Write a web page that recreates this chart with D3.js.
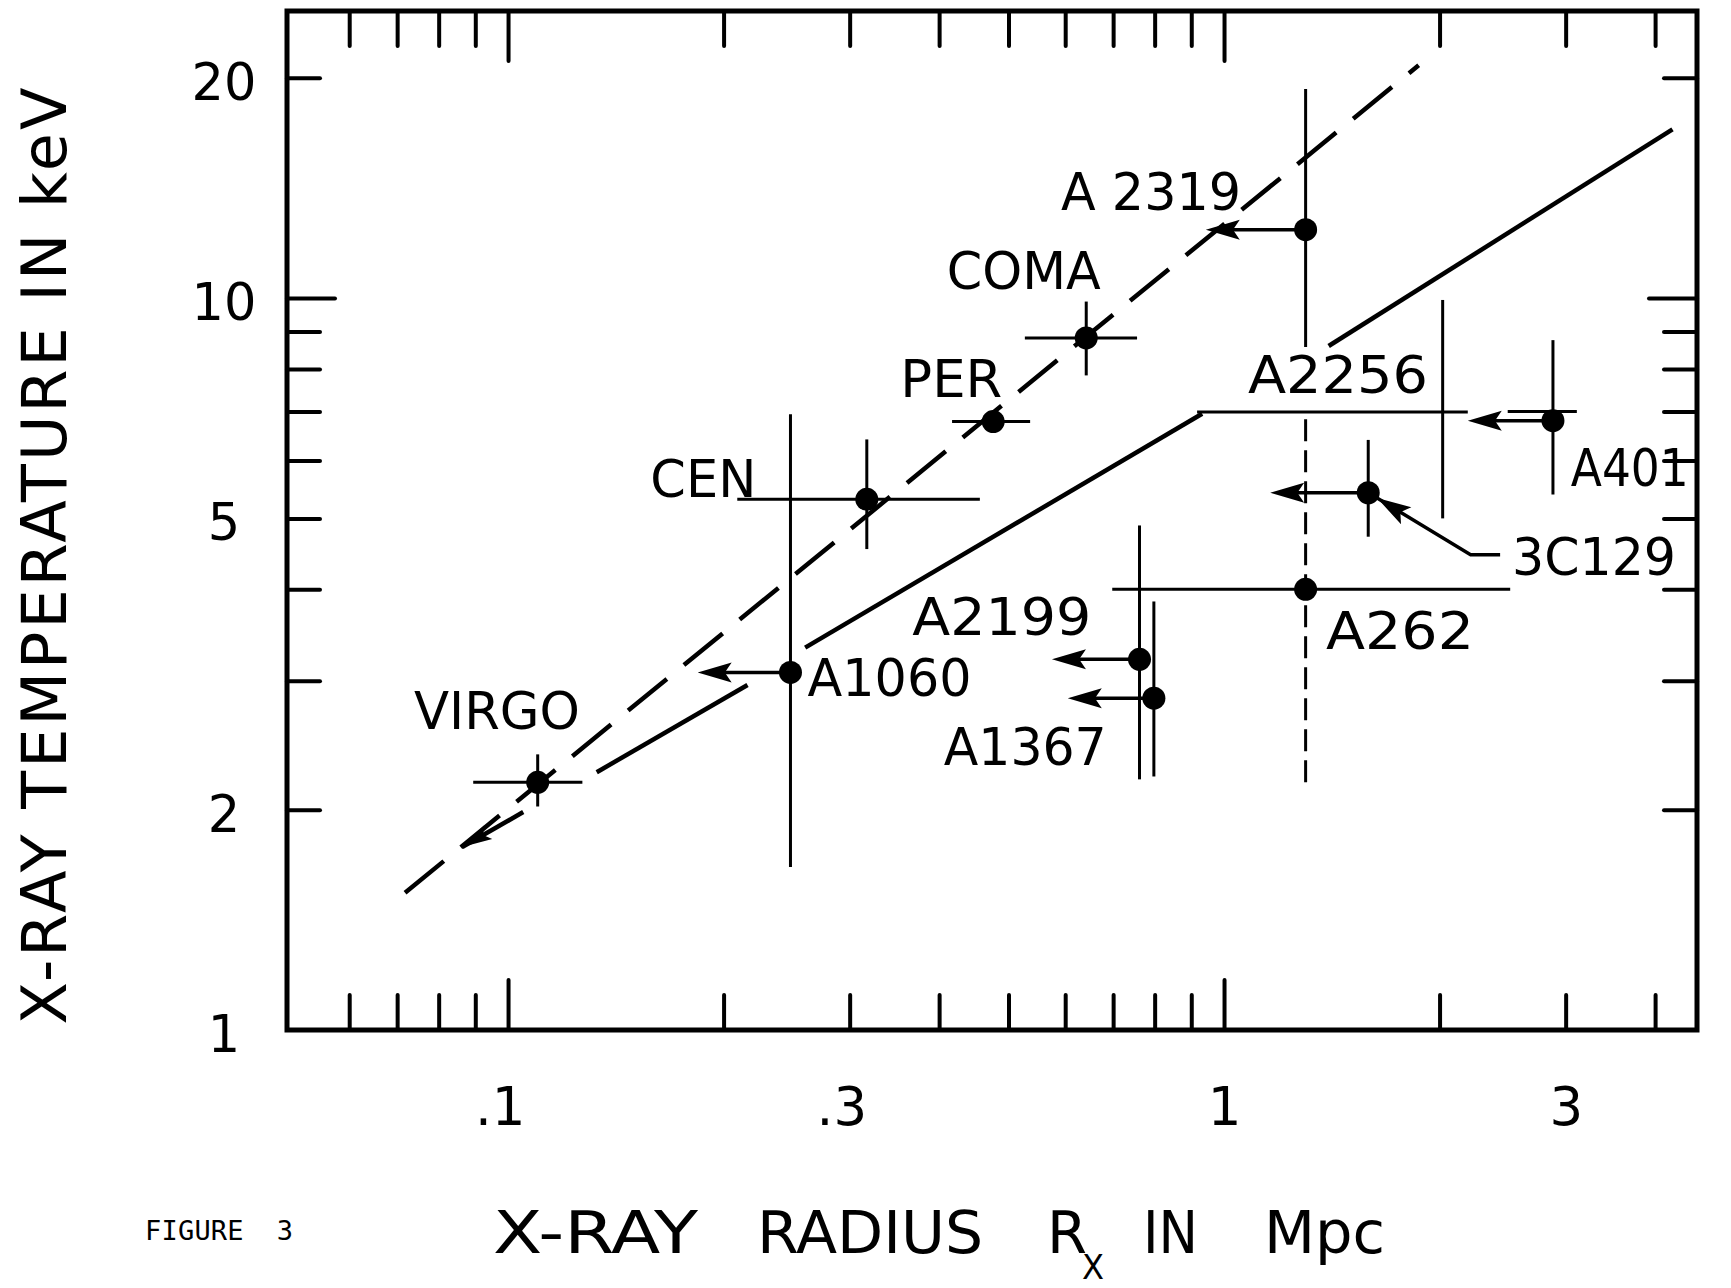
<!DOCTYPE html>
<html>
<head>
<meta charset="utf-8">
<script src="https://cdn.jsdelivr.net/npm/d3@7"></script>
<style>
  body { margin: 0; background: #fff; }
  svg { display: block; background: #fff; }
</style>
</head>
<body>
<svg width="1731" height="1288"></svg>
<script>
// clusters: radius in Mpc, temperature in keV
const names   = ['VIRGO', 'A1060', 'CEN', 'PER', 'COMA', 'A2319', 'A2256', 'A401', '3C129', 'A262', 'A2199', 'A1367']
const radius  = [0.110, 0.248, 0.317, 0.476, 0.642, 1.30, 2.02, 2.88, 1.59, 1.30, 0.762, 0.798]
const temp    = [2.18, 3.08, 5.31, 6.78, 8.82, 12.4, 6.99, 6.80, 5.42, 4.00, 3.21, 2.84]
const radLo   = [0.0894, null, 0.209, 0.417, 0.527, null, 0.917, 2.49, null, 0.698, null, null]
const radHi   = [0.127, null, 0.456, 0.536, 0.756, null, 2.19, 3.11, null, 2.51, null, null]
// the A401 radius bar is drawn a little above its point
const radBarT = [null, null, null, null, null, null, null, 7.0, null, null, null, null]
const tempLo  = [2.02, 1.67, 4.54, null, 7.84, 8.57, 5.00, 5.39, 4.72, 2.18, 2.20, 2.22]
const tempHi  = [2.38, 6.94, 6.41, null, 9.89, 19.3, 9.94, 8.76, 6.40, 6.99, 4.89, 3.85]
// upper limits on radius: arrow runs left to this radius
const limitTo = [null, 0.184, null, null, null, 0.943, null, 2.19, 1.16, null, 0.575, 0.605]
const noDot = ['A2256']
const dashedBar = ['A262']

// where each name is lettered (left end of baseline, data units)
const labelText = ['VIRGO', 'A1060', 'CEN', 'PER', 'COMA', 'A 2319', 'A2256', 'A401', '3C129', 'A262', 'A2199', 'A1367']
const labelR    = [0.0739, 0.262, 0.158, 0.353, 0.410, 0.592, 1.08, 3.05, 2.525, 1.388, 0.367, 0.406]
const labelT    = [2.58, 2.86, 5.35, 7.32, 10.29, 13.19, 7.42, 5.54, 4.18, 3.32, 3.46, 2.30]
const labelWidth = [166, 164, 106, 102, 154, 180, 180, 118, 164, 148, 179, 163]

// the two relations; the solid one is broken in three places
const solidR  = [[0.133, 0.216], [0.260, 0.932], [1.40, 4.23]]
const solidT  = [[2.25, 2.96], [3.33, 6.95], [8.6, 17.0]]
const dashR   = [0.0718, 1.87]
const dashT   = [1.54, 20.8]

// extra arrow under Virgo and the leader to 3C129
const virgoArrowR = [0.105, 0.0863]
const virgoArrowT = [1.985, 1.778]
const leaderR = [2.43, 2.21, 1.636]
const leaderT = [4.46, 4.46, 5.33]

// ticks
const xMajor = [0.1, 1]
const xMinor = [0.06, 0.07, 0.08, 0.09, 0.2, 0.3, 0.4, 0.5, 0.6, 0.7, 0.8, 0.9, 2, 3, 4]
const yMajor = [10]
const yMinor = [2, 3, 4, 5, 6, 7, 8, 9, 20]
const xTickVals = [0.1, 0.3, 1, 3]
const xTickText = ['.1', '.3', '1', '3']
const yTickVals = [1, 2, 5, 10, 20]
const yTickText = ['1', '2', '5', '10', '20']

const svg = d3.select('svg')
const margin = {top: 11, left: 287}
const w = 1410
const h = 1019
const font = 'DejaVu Sans, Verdana, sans-serif'

const x = d3.scaleLog().domain([0.04912, 4.577]).range([0, w])
const y = d3.scaleLog().domain([1, 24.67]).range([h, 0])

const g = svg.append('g').attr('transform', `translate(${margin.left},${margin.top})`)

// tick marks on all four sides
function ticks(axis, vals, size, tx, ty) {
  const a = g.append('g')
    .attr('transform', `translate(${tx},${ty})`)
    .call(axis.tickValues(vals).tickSize(-size).tickFormat(''))
  a.select('.domain').remove()
  a.selectAll('line').attr('stroke', '#000').attr('stroke-width', 4).attr('stroke-linecap', 'round')
}
ticks(d3.axisTop(x), xMinor, 35, 0, 0)
ticks(d3.axisTop(x), xMajor, 50, 0, 0)
ticks(d3.axisBottom(x), xMinor, 35, 0, h)
ticks(d3.axisBottom(x), xMajor, 50, 0, h)
ticks(d3.axisLeft(y), yMinor, 33, 0, 0)
ticks(d3.axisLeft(y), yMajor, 48, 0, 0)
ticks(d3.axisRight(y), yMinor, 33, w, 0)
ticks(d3.axisRight(y), yMajor, 48, w, 0)

g.append('rect')
  .attr('width', w).attr('height', h)
  .attr('fill', 'none').attr('stroke', '#000').attr('stroke-width', 5)

// tick labels
const xl = g.append('g').attr('transform', `translate(0,${h})`)
  .call(d3.axisBottom(x).tickValues(xTickVals).tickSize(0).tickPadding(57)
    .tickFormat((d, i) => xTickText[i]))
xl.select('.domain').remove()
xl.selectAll('text')
  .attr('font-family', font).attr('font-size', 53).attr('fill', '#000')
  .attr('text-anchor', 'end').attr('x', 17)

const yl = g.append('g')
  .call(d3.axisLeft(y).tickValues(yTickVals).tickSize(0)
    .tickFormat((d, i) => yTickText[i]))
yl.select('.domain').remove()
yl.selectAll('text')
  .attr('font-family', font).attr('font-size', 51).attr('fill', '#000')
  .attr('text-anchor', 'middle').attr('x', -63).attr('dy', '0.42em')

// fitted relations
const line = d3.line().x(d => x(d[0])).y(d => y(d[1]))
solidR.forEach((rs, i) => {
  g.append('path')
    .attr('d', line(rs.map((r, j) => [r, solidT[i][j]])))
    .attr('stroke', '#000').attr('stroke-width', 4.5).attr('fill', 'none')
})
g.append('path')
  .attr('d', line(dashR.map((r, j) => [r, dashT[j]])))
  .attr('stroke', '#000').attr('stroke-width', 4.5).attr('fill', 'none')
  .attr('stroke-dasharray', '50,22')

// arrowhead with its tip at p, coming from q
function head(p, q, len = 34, half = 10) {
  const dx = q[0] - p[0], dy = q[1] - p[1]
  const d = Math.hypot(dx, dy), ux = dx / d, uy = dy / d
  const px = -uy, py = ux
  const b = [p[0] + ux * len, p[1] + uy * len]
  const n = [p[0] + ux * len * 0.8, p[1] + uy * len * 0.8]
  return `M${p[0]},${p[1]}L${b[0] + px * half},${b[1] + py * half}L${n[0]},${n[1]}L${b[0] - px * half},${b[1] - py * half}Z`
}

// error bars, limits and points
names.forEach((name, i) => {
  const cx = x(radius[i]), cy = y(temp[i])
  if (radLo[i] != null) {
    const by = radBarT[i] != null ? y(radBarT[i]) : cy
    g.append('line')
      .attr('x1', x(radLo[i])).attr('x2', x(radHi[i]))
      .attr('y1', by).attr('y2', by)
      .attr('stroke', '#000').attr('stroke-width', 3)
  }
  if (tempLo[i] != null) {
    g.append('line')
      .attr('x1', cx).attr('x2', cx)
      .attr('y1', y(tempLo[i])).attr('y2', y(tempHi[i]))
      .attr('stroke', '#000').attr('stroke-width', 3)
      .attr('stroke-dasharray', dashedBar.includes(name) ? '22,9' : null)
  }
  if (limitTo[i] != null) {
    const tip = [x(limitTo[i]), cy]
    g.append('line')
      .attr('x1', cx).attr('x2', tip[0] + 20)
      .attr('y1', cy).attr('y2', cy)
      .attr('stroke', '#000').attr('stroke-width', 3.5)
    g.append('path').attr('d', head(tip, [cx, cy])).attr('fill', '#000')
  }
  if (!noDot.includes(name)) {
    g.append('circle').attr('cx', cx).attr('cy', cy).attr('r', 11.5).attr('fill', '#000')
  }
})

// arrow below Virgo
const va = virgoArrowR.map((r, j) => [x(r), y(virgoArrowT[j])])
g.append('line')
  .attr('x1', va[0][0]).attr('y1', va[0][1]).attr('x2', va[1][0]).attr('y2', va[1][1])
  .attr('stroke', '#000').attr('stroke-width', 4.5)
g.append('path').attr('d', head(va[1], va[0], 30, 8)).attr('fill', '#000')

// leader to 3C129
const ld = leaderR.map((r, j) => [x(r), y(leaderT[j])])
g.append('path')
  .attr('d', d3.line()(ld))
  .attr('stroke', '#000').attr('stroke-width', 3.5).attr('fill', 'none')
g.append('path').attr('d', head(ld[2], ld[1])).attr('fill', '#000')

// cluster names
g.selectAll('.lab')
  .data(labelText)
  .enter()
  .append('text')
  .attr('class', 'lab')
  .attr('x', (d, i) => x(labelR[i]))
  .attr('y', (d, i) => y(labelT[i]))
  .attr('font-family', font).attr('font-size', 52)
  .attr('textLength', (d, i) => labelWidth[i])
  .attr('lengthAdjust', 'spacingAndGlyphs')
  .text(d => d)

// axis titles
svg.append('text')
  .attr('transform', 'translate(66,556) rotate(-90)')
  .attr('text-anchor', 'middle')
  .attr('font-family', font).attr('font-size', 62)
  .attr('textLength', 937).attr('lengthAdjust', 'spacing')
  .text('X-RAY TEMPERATURE IN keV')

const titleParts = ['X-RAY', 'RADIUS', 'R', 'X', 'IN', 'Mpc']
const titleX = [493, 757, 1047, 1082, 1143, 1264]
const titleLen = [205, 226, 40, 22, 55, 121]
svg.selectAll('.xt')
  .data(titleParts)
  .enter()
  .append('text')
  .attr('class', 'xt')
  .attr('x', (d, i) => titleX[i])
  .attr('y', (d, i) => i == 3 ? 1279 : 1253)
  .attr('font-family', 'DejaVu Sans Condensed, DejaVu Sans, sans-serif')
  .attr('font-size', (d, i) => i == 3 ? 34 : 58)
  .attr('textLength', (d, i) => titleLen[i])
  .attr('lengthAdjust', 'spacingAndGlyphs')
  .text(d => d)

svg.append('text')
  .attr('x', 145).attr('y', 1240)
  .attr('font-family', 'DejaVu Sans Mono, monospace').attr('font-size', 27)
  .attr('textLength', 148).attr('lengthAdjust', 'spacing')
  .attr('xml:space', 'preserve')
  .text('FIGURE  3')
</script>
</body>
</html>
